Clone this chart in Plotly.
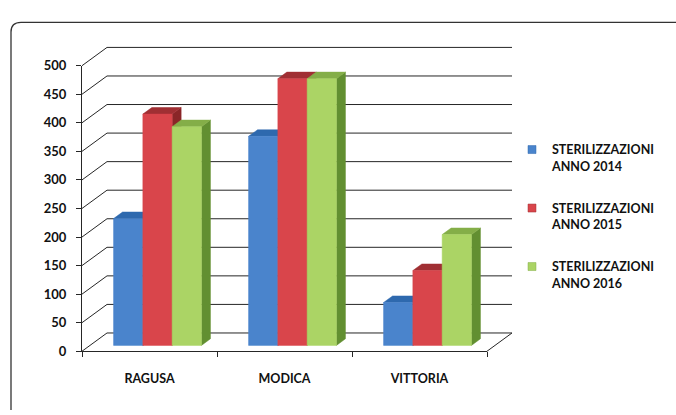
import plotly.graph_objects as go

# ---------------- data ----------------
categories = ["RAGUSA", "MODICA", "VITTORIA"]
series_names = ["STERILIZZAZIONI<br>ANNO 2014", "STERILIZZAZIONI<br>ANNO 2015", "STERILIZZAZIONI<br>ANNO 2016"]
values_2014 = [222, 366, 75]
values_2015 = [405, 467, 131]
values_2016 = [383, 467, 194]
y_ticks = [0, 50, 100, 150, 200, 250, 300, 350, 400, 450, 500]

series_values = [values_2014, values_2015, values_2016]
front_colors = ["#4A84CC", "#D9454B", "#ABD465"]
top_colors = ["#2E69AE", "#A02F33", "#84AE48"]
side_colors = ["#285A99", "#8A2628", "#628F31"]

# ---------------- layout geometry ----------------
W, H = 676, 415
FX0, FX1 = 82, 487     # pixel x of category axis start / end
FY0, FY1 = 357, 60     # pixel y of value 0 / value 500
NCAT = len(categories)
YMAX = y_ticks[-1]
DEPTH_PX = (25, 19)    # depth offset of back wall in pixels

upx = NCAT / (FX1 - FX0)          # category units per pixel
vpp = YMAX / (FY0 - FY1)          # value units per pixel
DX = DEPTH_PX[0] * upx
DY = DEPTH_PX[1] * vpp

BW = 0.217     # bar width (category units)
D0 = 0.32      # bar front depth fraction
DD = 0.36      # bar depth fraction

FONT = "Lato"
TXT = "#111111"
LINE = "#262626"

fig = go.Figure()

# invisible trace on the front-axis subplot so its axes render
fig.add_trace(go.Scatter(x=[None], y=[None], xaxis="x", yaxis="y",
                         showlegend=False, hoverinfo="skip"))

# walls: left-wall diagonals, back-wall gridlines, floor edge
gx, gy = [], []
for v in y_ticks:
    gx += [0, DX, None]
    gy += [v, v + DY, None]
    gx += [DX, NCAT + DX, None]
    gy += [v + DY, v + DY, None]
gx += [NCAT, NCAT + DX, None]
gy += [0, DY, None]
fig.add_trace(go.Scatter(x=gx, y=gy, xaxis="x2", yaxis="y2", mode="lines",
                         line=dict(color=LINE, width=1), showlegend=False,
                         hoverinfo="skip"))

# 3D bars
ns = len(series_values)
for j, vals in enumerate(series_values):
    fx, fy, tx, ty, sx, sy = [], [], [], [], [], []
    for i, v in enumerate(vals):
        xl = i + 0.5 - ns * BW / 2 + j * BW + D0 * DX
        xr = xl + BW
        yb = D0 * DY
        yt = v + D0 * DY
        ox, oy = DD * DX, DD * DY
        fx += [xl, xr, xr, xl, xl, None]
        fy += [yb, yb, yt, yt, yb, None]
        sx += [xr, xr + ox, xr + ox, xr, xr, None]
        sy += [yb, yb + oy, yt + oy, yt, yb, None]
        tx += [xl, xr, xr + ox, xl + ox, xl, None]
        ty += [yt, yt, yt + oy, yt + oy, yt, None]
    for px_, py_, col in ((sx, sy, side_colors[j]), (tx, ty, top_colors[j]),
                          (fx, fy, front_colors[j])):
        fig.add_trace(go.Scatter(x=px_, y=py_, xaxis="x2", yaxis="y2",
                                 mode="lines", fill="toself", fillcolor=col,
                                 line=dict(color=col, width=0.5),
                                 showlegend=False, hoverinfo="skip"))

# legend entries
for j, name in enumerate(series_names):
    fig.add_trace(go.Scatter(x=[None], y=[None], xaxis="x2", yaxis="y2",
                             mode="markers", name=name, legendgroup="g" + str(j),
                             marker=dict(symbol="square", size=8,
                                         color=front_colors[j],
                                         line=dict(color=top_colors[j], width=0.5))))

# frame (rounded rectangle), pixel -> paper
def px(x):
    return x / W

def py(y):
    return 1 - y / H

r = 10
L, T, R, B = 11, 15, 700, 418
path = (f"M {px(L)},{py(B)} L {px(L)},{py(T + r)} "
        f"Q {px(L)},{py(T)} {px(L + r)},{py(T)} L {px(R)},{py(T)}")

fig.update_layout(
    width=W, height=H, autosize=False,
    margin=dict(l=0, r=0, t=0, b=0, pad=0),
    paper_bgcolor="white", plot_bgcolor="rgba(0,0,0,0)",
    font=dict(family=FONT, size=13, color=TXT, weight="bold"),
    xaxis=dict(domain=[FX0 / W, FX1 / W], range=[0, NCAT], anchor="y",
               showline=True, linecolor=LINE, linewidth=1, showgrid=False,
               zeroline=False, tickmode="array",
               tickvals=[i + 0.5 for i in range(NCAT)], ticktext=categories,
               ticks="", ticklabelstandoff=16, fixedrange=True,
               tickfont=dict(family=FONT, size=12.5, color=TXT, weight="bold"),
               minor=dict(ticks="outside", ticklen=5, tickcolor=LINE,
                          tick0=0, dtick=1, showgrid=False)),
    yaxis=dict(domain=[(H - FY0) / H, (H - FY1) / H], range=[0, YMAX],
               anchor="x", showline=True, linecolor=LINE, linewidth=1,
               showgrid=False, zeroline=False, tickmode="array",
               tickvals=y_ticks, ticks="outside", ticklen=5, tickcolor=LINE,
               ticklabelstandoff=7, fixedrange=True,
               tickfont=dict(family=FONT, size=13, color=TXT, weight="bold")),
    xaxis2=dict(domain=[0, 1], range=[-FX0 * upx, (W - FX0) * upx],
                anchor="y2", visible=False, fixedrange=True),
    yaxis2=dict(domain=[0, 1], range=[-(H - FY0) * vpp, FY0 * vpp],
                anchor="x2", visible=False, fixedrange=True),
    showlegend=True,
    legend=dict(x=px(512), y=py(132), xanchor="left", yanchor="top",
                bgcolor="rgba(0,0,0,0)",
                font=dict(family=FONT, size=12.5, color=TXT, weight="bold"),
                tracegroupgap=23, valign="top", traceorder="grouped"),
    shapes=[dict(type="path", path=path, xref="paper", yref="paper",
                 line=dict(color="#333333", width=1.3))],
)

fig.write_html("out.html")
